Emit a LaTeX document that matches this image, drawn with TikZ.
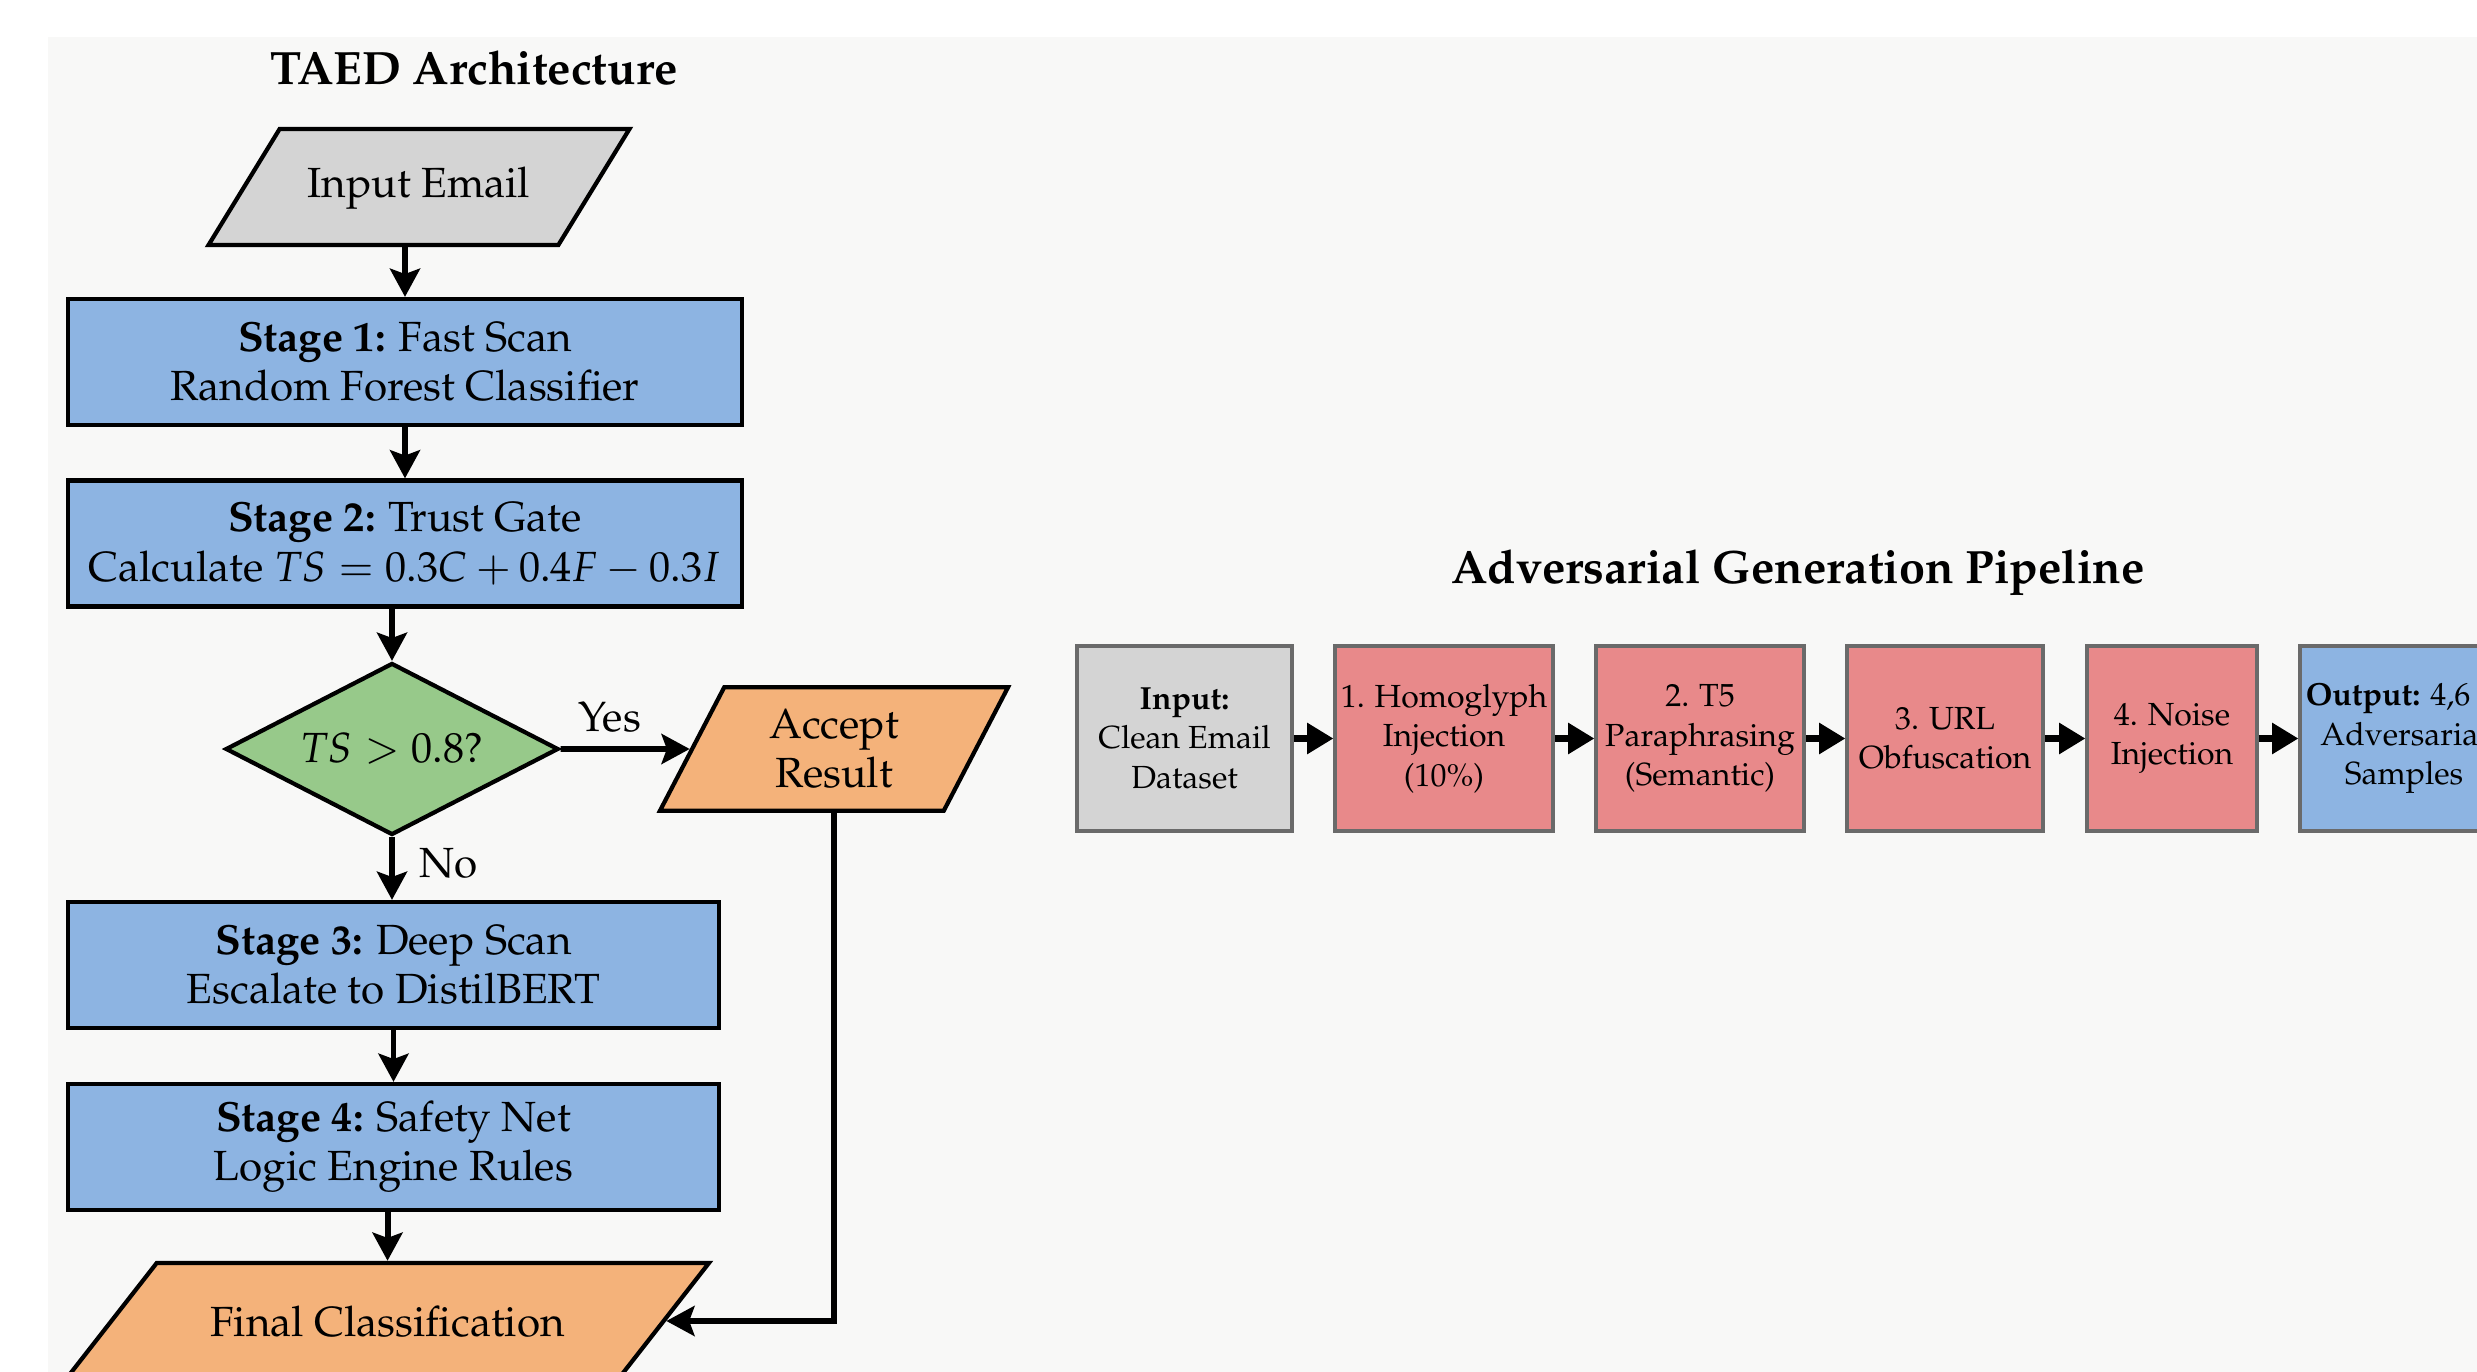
\documentclass[tikz,border=0pt]{standalone}
\usepackage[T1]{fontenc}
\usepackage{mathpazo}
\usetikzlibrary{shapes.geometric,arrows.meta}

\definecolor{bgpage}{HTML}{F8F8F7}
\definecolor{stageblue}{HTML}{8DB4E2}
\definecolor{gategreen}{HTML}{97C98A}
\definecolor{outorange}{HTML}{F4B27A}
\definecolor{ingrey}{HTML}{D4D4D4}
\definecolor{advred}{HTML}{E8898A}
\definecolor{advedge}{HTML}{6A6A6A}

\tikzset{
	heading/.style={font=\fontsize{13.3}{15}\selectfont\bfseries},
	stagebox/.style={draw, line width=1.2pt, fill=stageblue, align=center, minimum height=1.26cm, inner sep=2pt},
	para/.style={trapezium, trapezium stretches body, draw, line width=1.2pt, align=center, inner xsep=2pt},
	oneline/.style={text height=9pt, text depth=3pt, inner ysep=0.37cm},
	flow/.style={line width=1.7pt, -{Stealth[length=8pt,width=8.5pt,inset=1.5pt]}},
	advbox/.style={draw=advedge, line width=0.9pt, minimum height=1.85cm, align=center, inner sep=1pt, font=\fontsize{9.1}{11.2}\selectfont},
	advflow/.style={line width=1.8pt, -{Triangle[length=7.5pt,width=8.5pt]}}
}

\begin{document}
\begin{tikzpicture}[font=\fontsize{12}{14}\selectfont]
		%%%%% START %%%%%
		\useasboundingbox (0, 0) rectangle (24.77, -13.72);
		\clip (0, 0) rectangle (24.77, -13.72);
		\fill[bgpage] (0.48, -0.37) rectangle (24.77, -13.72);
		
		% trust-aware detection column
		\node[heading] (taedtitle) at (4.74, -0.68) {TAED Architecture};
		\node[para, oneline, fill=ingrey, trapezium left angle=58.5, trapezium right angle=121.5, minimum width=4.21cm] (inmail) at (4.19, -1.87) {Input Email};
		\node[stagebox, minimum width=6.74cm] (stageone) at (4.05, -3.62) {\textbf{Stage 1:} Fast Scan\\Random Forest Classifier};
		\node[stagebox, minimum width=6.74cm] (stagetwo) at (4.05, -5.435) {\textbf{Stage 2:} Trust Gate\\Calculate $TS = 0.3C + 0.4F - 0.3I$};
		\node[diamond, aspect=1.94, draw, line width=1.2pt, fill=gategreen, minimum width=3.33cm, minimum height=1.72cm, inner sep=0pt] (gate) at (3.92, -7.49) {$TS > 0.8?$};
		\node[para, fill=outorange, inner ysep=0.22cm, trapezium left angle=62.5, trapezium right angle=117.5, minimum width=3.48cm] (accept) at (8.34, -7.49) {Accept\\Result};
		\node[stagebox, minimum width=6.51cm] (stagethree) at (3.935, -9.65) {\textbf{Stage 3:} Deep Scan\\Escalate to DistilBERT};
		\node[stagebox, minimum width=6.51cm] (stagefour) at (3.935, -11.47) {\textbf{Stage 4:} Safety Net\\Logic Engine Rules};
		\node[para, oneline, text height=10.4pt, text depth=1.6pt, fill=outorange, trapezium left angle=52, trapezium right angle=128, minimum width=6.43cm] (final) at (3.875, -13.21) {Final Classification};
		
		\draw[flow] (stageone.north |- inmail.south) -- (stageone.north);
		\draw[flow] (stageone) -- (stagetwo);
		\draw[flow] (gate.north |- stagetwo.south) -- (gate.north);
		\draw[flow] (gate.east) -- node[above, pos=0.38, inner sep=4pt] {Yes} (accept.west);
		\draw[flow] (gate.south) -- node[right, pos=0.42, inner sep=7pt] {No} (gate.south |- stagethree.north);
		\draw[flow] (stagethree) -- (stagefour);
		\draw[flow] (final.north |- stagefour.south) -- (final.north);
		\draw[flow] (accept.south) |- (final.east);
		
		% adversarial pipeline row
		\node[heading] (advtitle) at (17.98, -5.73) {Adversarial Generation Pipeline};
		\node[advbox, fill=ingrey, minimum width=2.15cm] (advin) at (11.845, -7.385) {\textbf{Input:}\\Clean Email\\Dataset};
		\node[advbox, fill=advred, minimum width=2.18cm] (homo) at (14.44, -7.385) {1. Homoglyph\\Injection\\(10\%)};
		\node[advbox, fill=advred, minimum width=2.08cm] (tfive) at (17.00, -7.385) {2. T5\\Paraphrasing\\(Semantic)};
		\node[advbox, fill=advred, minimum width=1.96cm] (url) at (19.45, -7.385) {3. URL\\Obfuscation};
		\node[advbox, fill=advred, minimum width=1.70cm] (noise) at (21.72, -7.385) {4. Noise\\Injection};
		\node[advbox, fill=stageblue, minimum width=2.08cm] (advout) at (24.04, -7.385) {\textbf{Output:} 4,6\phantom{00}\\Adversarial\\Samples};
		
		\draw[advflow] (advin) -- (homo);
		\draw[advflow] (homo) -- (tfive);
		\draw[advflow] (tfive) -- (url);
		\draw[advflow] (url) -- (noise);
		\draw[advflow] (noise) -- (advout);
		%%%%% END %%%%%
\end{tikzpicture}
\end{document}
